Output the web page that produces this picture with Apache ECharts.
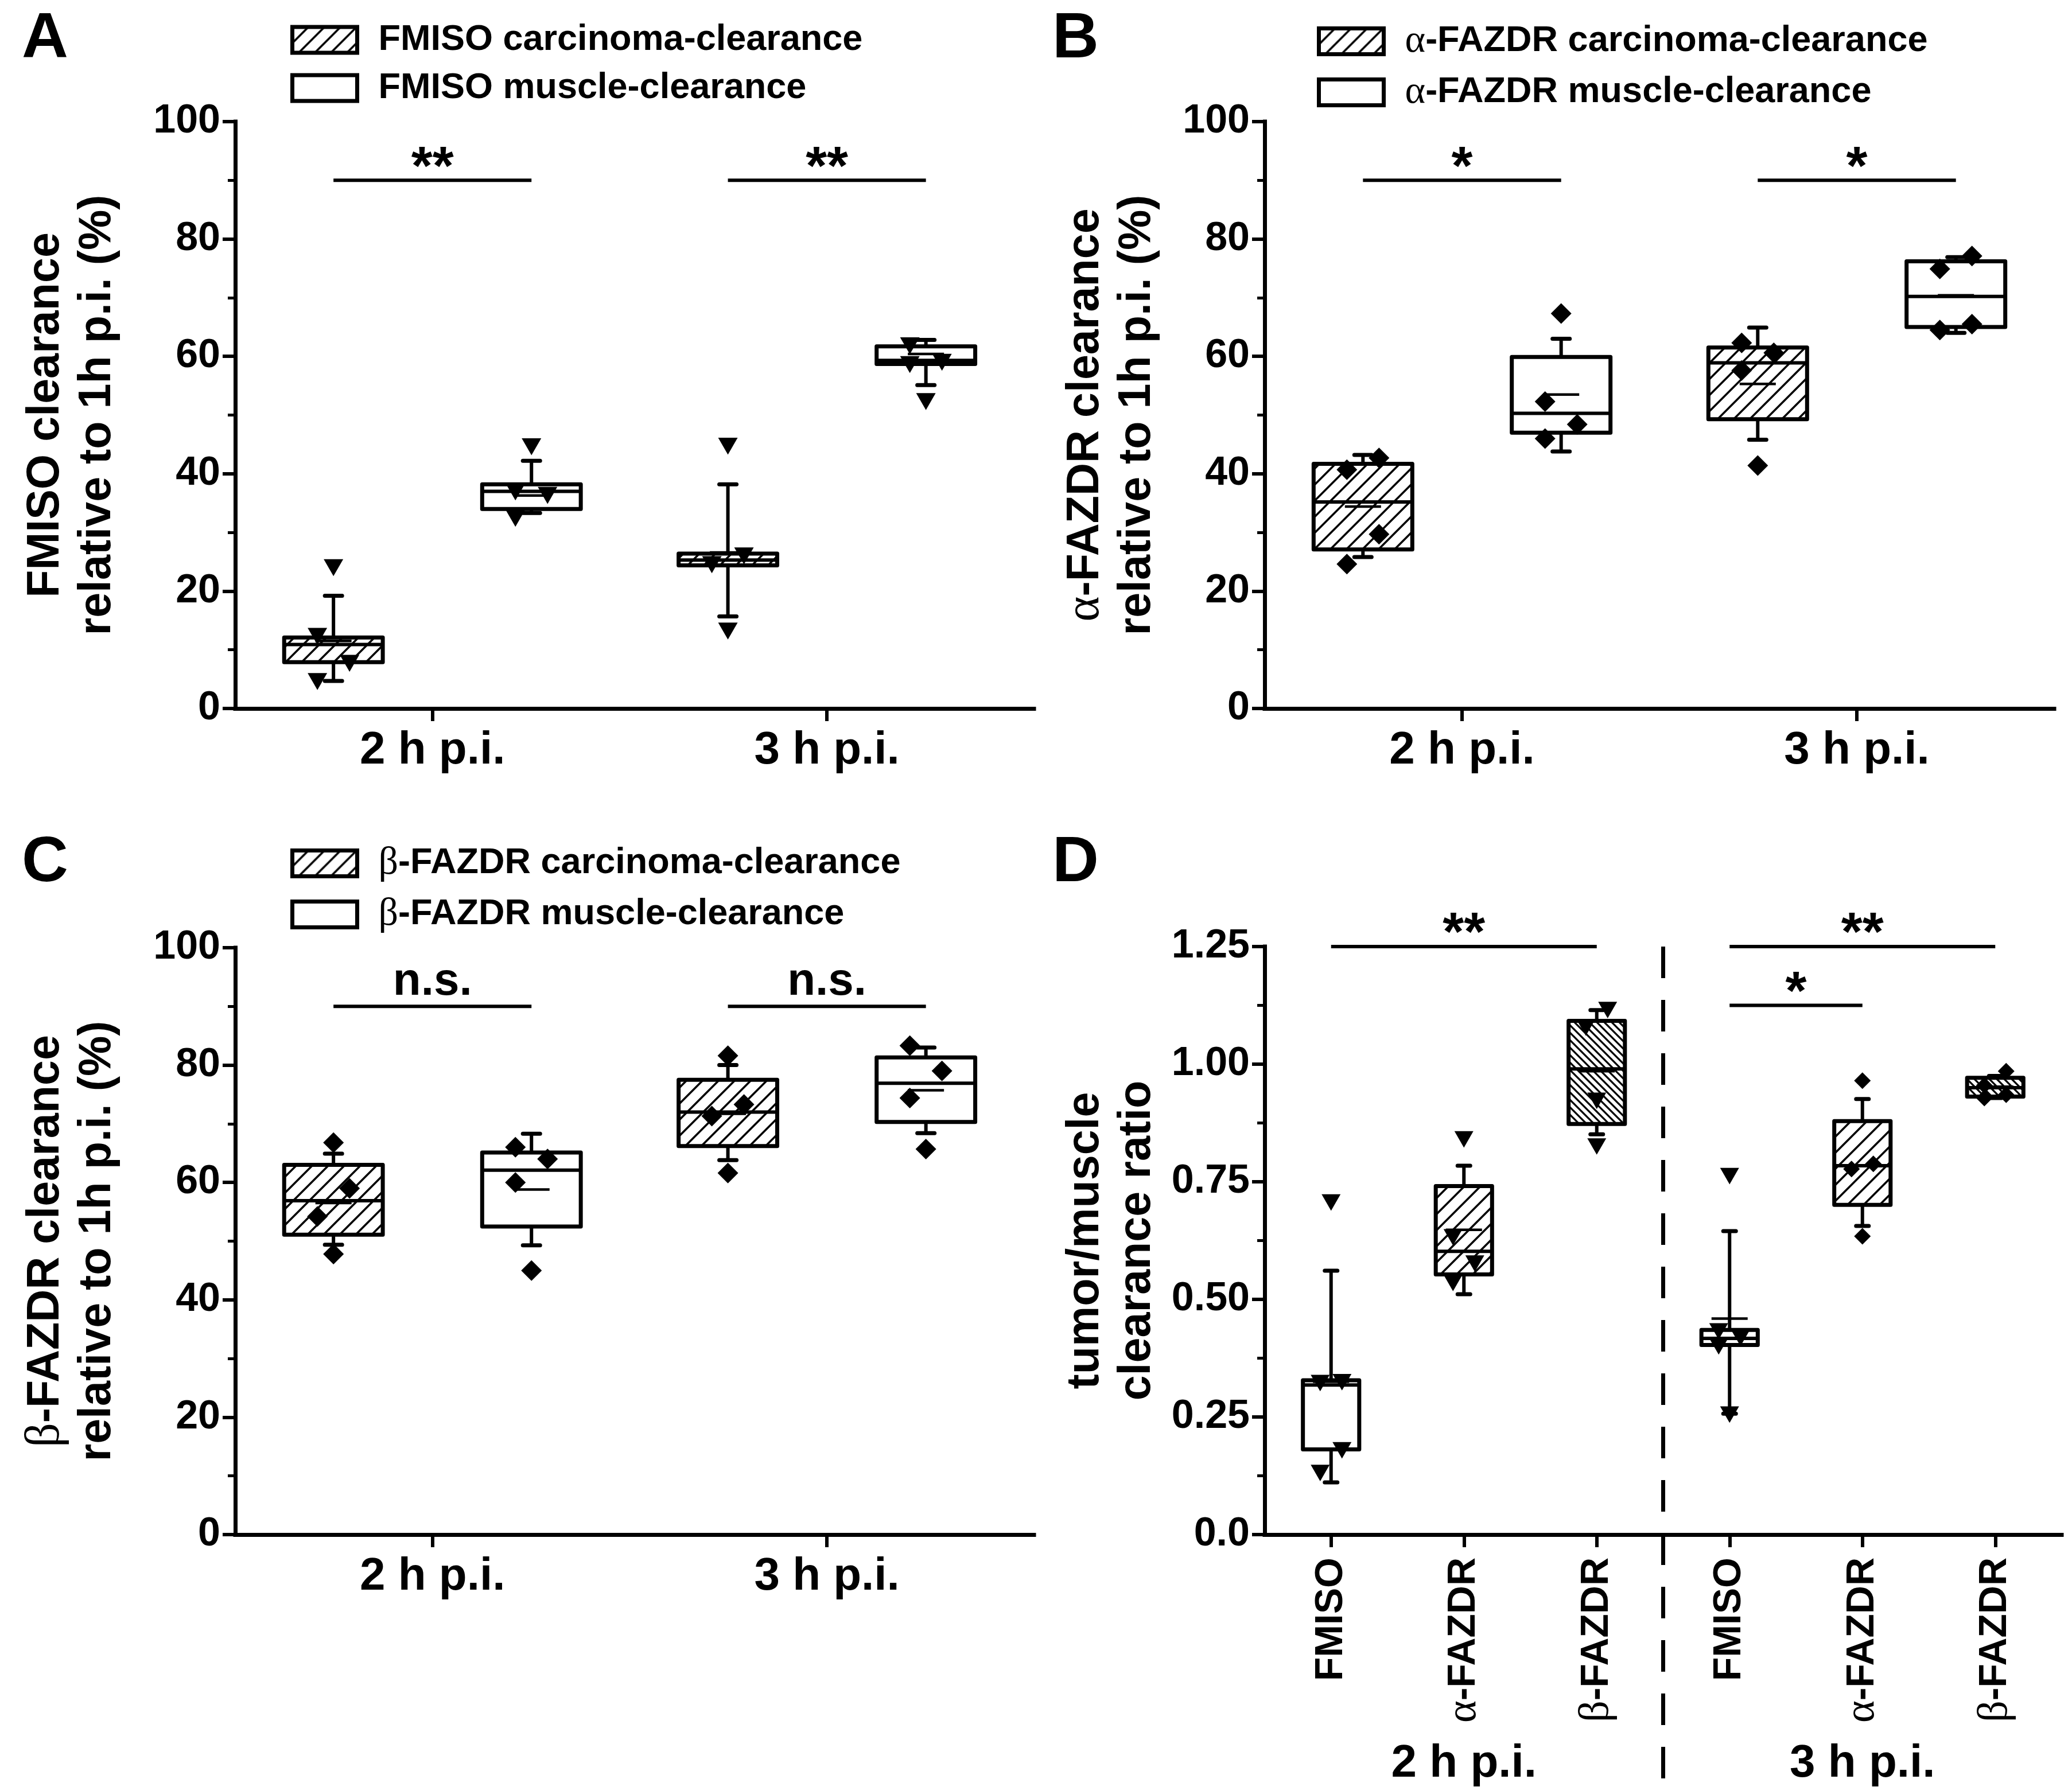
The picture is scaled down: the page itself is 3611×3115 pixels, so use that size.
<!DOCTYPE html>
<html><head><meta charset="utf-8">
<script src="https://cdn.jsdelivr.net/npm/echarts@6/dist/echarts.min.js"></script>
<style>html,body{margin:0;padding:0;background:#fff}#c{width:3611px;height:3115px}</style>
</head><body><div id="c"></div><script>
const SANS = '"Liberation Sans", Arial, Helvetica, sans-serif';
const SERIF = '"Liberation Serif", "Times New Roman", "DejaVu Serif", serif';
const INK = '#000';

// ---------------- data ----------------
const timeCats = ['2 h p.i.', '3 h p.i.'];
// box stats per time point: [lower whisker, Q1, median, Q3, upper whisker]
// Panel A (FMISO)
const fmisoTumorBox = [[4.7, 7.9, 10.9, 12.1, 19.2], [15.7, 24.4, 25.3, 26.4, 38.2]];
const fmisoTumorMean = [11.5, 26.6];
const fmisoTumorPts = [[24.0, 12.3, 7.7, 4.6], [44.7, 26.0, 24.5, 13.2]];
const fmisoMuscleBox = [[33.3, 34.0, 37.0, 38.2, 42.2], [55.1, 58.7, 59.3, 61.7, 62.8]];
const fmisoMuscleMean = [36.3, 60.4];
const fmisoMusclePts = [[44.6, 36.9, 36.3, 32.4], [61.8, 59.0, 58.6, 52.3]];
const sigTextA = ['**', '**'];
const sigLevelA = [90, 90];
// Panel B (alpha-FAZDR)
const alphaTumorBox = [[25.8, 27.1, 35.2, 41.7, 43.2], [45.8, 49.3, 58.9, 61.5, 64.9]];
const alphaTumorMean = [34.4, 55.3];
const alphaTumorPts = [[42.7, 40.7, 29.7, 24.6], [62.3, 60.6, 57.6, 41.4]];
const alphaMuscleBox = [[43.8, 47.0, 50.3, 59.9, 63.0], [64.0, 65.0, 70.2, 76.2, 76.9]];
const alphaMuscleMean = [53.5, 70.4];
const alphaMusclePts = [[67.3, 52.3, 48.4, 46.0], [77.1, 74.9, 65.5, 64.5]];
const sigTextB = ['*', '*'];
const sigLevelB = [90, 90];
// Panel C (beta-FAZDR)
const betaTumorBox = [[49.4, 51.1, 56.9, 63.0, 64.9], [63.8, 66.2, 72.0, 77.5, 80.0]];
const betaTumorMean = [56.5, 71.7];
const betaTumorPts = [[66.8, 59.0, 54.2, 47.8], [81.6, 73.3, 71.3, 61.6]];
const betaMuscleBox = [[49.3, 52.5, 62.1, 65.1, 68.3], [68.4, 70.3, 76.9, 81.3, 83.0]];
const betaMuscleMean = [58.8, 75.7];
const betaMusclePts = [[66.0, 64.0, 60.0, 45.0], [83.3, 79.0, 74.4, 65.7]];
const sigTextC = ['n.s.', 'n.s.'];
const sigLevelC = [90, 90];
// Panel D (tumor/muscle clearance ratio)
const ratioCats = ['FMISO', 'α-FAZDR', 'β-FAZDR', 'FMISO', 'α-FAZDR', 'β-FAZDR'];
const ratioGroups = ['2 h p.i.', '3 h p.i.'];
const ratioBox = [
  [0.111, 0.181, 0.318, 0.328, 0.561],
  [0.511, 0.553, 0.602, 0.741, 0.784],
  [0.851, 0.873, 0.990, 1.092, 1.115],
  [0.257, 0.403, 0.417, 0.435, 0.645],
  [0.656, 0.701, 0.784, 0.879, 0.926],
  [0.928, 0.931, 0.950, 0.971, 0.975]
];
const ratioMean = [0.325, 0.648, 0.985, 0.459, 0.784, 0.952];
const ratioPts = [
  [0.706, 0.324, 0.322, 0.179, 0.131],
  [0.840, 0.632, 0.576, 0.535],
  [1.115, 1.078, 0.922, 0.825],
  [0.762, 0.432, 0.418, 0.400, 0.255],
  [0.965, 0.788, 0.777, 0.634],
  [0.985, 0.955, 0.935, 0.928]
];
const sigFromD = [0, 3, 3];
const sigToD = [2, 5, 4];
const sigLevelD = [1.25, 1.25, 1.125];
const sigTextD = ['**', '**', '*'];

// ---------------- styles ----------------
function makeHatch(step, lw, dir) {
  const c = document.createElement('canvas');
  c.width = step; c.height = step;
  const g = c.getContext('2d');
  g.fillStyle = '#fff'; g.fillRect(0, 0, step, step);
  g.strokeStyle = '#000'; g.lineWidth = lw; g.lineCap = 'square';
  g.beginPath();
  for (let k = -1; k <= 1; k++) {
    if (dir > 0) { g.moveTo(k * step, step); g.lineTo(k * step + step, 0); }
    else { g.moveTo(k * step, 0); g.lineTo(k * step + step, step); }
  }
  g.stroke();
  return { image: c, repeat: 'repeat' };
}
const HATCH = makeHatch(28, 3.6, 1);
const HATCH_DENSE = makeHatch(13, 3.2, -1);
const WHITE = '#fff';

const greek = s => s.replace(/([αβ])/g, '{g|$1}');

function jitter(ys, thr) {
  const idx = ys.map((y, i) => i).sort((a, b) => ys[b] - ys[a]);
  const out = ys.map(() => 0);
  let start = 0;
  for (let k = 1; k <= idx.length; k++) {
    if (k === idx.length || Math.abs(ys[idx[k]] - ys[idx[k - 1]]) >= thr) {
      const n = k - start;
      if (n > 1) for (let j = 0; j < n; j++) out[idx[start + j]] = (j % 2 === 0) ? -1 : 1;
      start = k;
    }
  }
  return out;
}

function marker(kind, x, y, s) {
  if (kind === 'tri') {
    const w = s, h = s * 0.87;
    return { type: 'polygon', shape: { points: [[x - w / 2, y - h / 2], [x + w / 2, y - h / 2], [x, y + h / 2]] }, style: { fill: INK } };
  }
  const r = s / 2;
  return { type: 'polygon', shape: { points: [[x, y - r], [x + r, y], [x, y + r], [x - r, y]] }, style: { fill: INK } };
}

function boxRenderer(o) {
  return function (params, api) {
    const i = params.dataIndex;
    const xv = api.value(0);
    const unit = api.size([1, 0])[0];
    const cx = api.coord([xv, 0])[0] + o.shift * unit;
    const bw = o.width * unit;
    const Y = v => api.coord([xv, v])[1];
    const lo = Y(api.value(1)), q1 = Y(api.value(2)), med = Y(api.value(3)),
          q3 = Y(api.value(4)), hi = Y(api.value(5)), mean = Y(api.value(6));
    const els = [];
    const seg = (x1, y1, x2, y2, w, cap) => els.push({ type: 'line', shape: { x1, y1, x2, y2 }, style: { stroke: INK, lineWidth: w, lineCap: cap || 'butt' } });
    seg(cx, q3, cx, hi, 6);
    seg(cx, q1, cx, lo, 6);
    seg(cx - o.capW / 2, hi, cx + o.capW / 2, hi, 7, 'round');
    seg(cx - o.capW / 2, lo, cx + o.capW / 2, lo, 7, 'round');
    els.push({ type: 'rect', shape: { x: cx - bw / 2, y: q3, width: bw, height: q1 - q3 },
      style: { fill: o.fills[i], stroke: INK, lineWidth: 7, lineJoin: 'round' } });
    seg(cx - bw / 2, med, cx + bw / 2, med, 6);
    seg(cx - o.meanW / 2, mean, cx + o.meanW / 2, mean, 4.5);
    const ys = o.points[i].map(v => Y(v));
    const offs = jitter(ys, o.clusterPx);
    ys.forEach((py, k) => els.push(marker(o.markers[i], cx + offs[k] * o.jitterPx, py, o.markerSize[i])));
    return { type: 'group', children: els };
  };
}

function boxSeries(name, gi, box, mean, pts, o, xStart) {
  return {
    type: 'custom', name, coordinateSystem: 'cartesian2d', xAxisIndex: gi, yAxisIndex: gi,
    data: box.map((b, i) => [i + xStart].concat(b, [mean[i]])),
    encode: { x: 0, y: [1, 2, 3, 4, 5, 6] },
    renderItem: boxRenderer(Object.assign({ points: pts }, o)),
    clip: false, silent: true, z: 3
  };
}

function sigRenderer(texts, shiftL, shiftR) {
  return function (params, api) {
    const a = api.coord([api.value(0), api.value(2)]);
    const b = api.coord([api.value(1), api.value(2)]);
    const unit = api.size([1, 0])[0];
    const x1 = a[0] + shiftL * unit, x2 = b[0] + shiftR * unit, y = a[1];
    const t = texts[params.dataIndex];
    const star = t.indexOf('*') >= 0;
    return { type: 'group', children: [
      { type: 'line', shape: { x1, y1: y, x2, y2: y }, style: { stroke: INK, lineWidth: 6 } },
      { type: 'text', x: (x1 + x2) / 2, y: y - (star ? 20 : 42),
        style: { text: t, fill: INK, fontSize: star ? 95 : 80, fontWeight: 'bold', fontFamily: SANS, align: 'center', verticalAlign: 'middle' } }
    ] };
  };
}

function sigSeries(gi, from, to, levels, texts, shiftL, shiftR) {
  return {
    type: 'custom', coordinateSystem: 'cartesian2d', xAxisIndex: gi, yAxisIndex: gi,
    data: from.map((f, i) => [f, to[i], levels[i]]),
    encode: { x: [0, 1], y: 2 },
    renderItem: sigRenderer(texts, shiftL, shiftR), clip: false, silent: true, z: 4
  };
}

// ---------------- axes ----------------
const axisLine = { show: true, onZero: false, lineStyle: { color: INK, width: 7, cap: 'square' } };
const tick = { show: true, length: 22, lineStyle: { color: INK, width: 6 } };
const minor = { show: true, splitNumber: 2, length: 13, lineStyle: { color: INK, width: 5 } };
const labelFont = { color: INK, fontFamily: SANS, fontWeight: 'bold' };
const greekRich = size => ({ g: { fontFamily: SERIF, fontWeight: 'normal', fontSize: size, color: INK } });

function timeAxis(gi, max) {
  return {
    type: 'value', gridIndex: gi, min: 0.5, max,
    axisLine, splitLine: { show: false },
    axisTick: Object.assign({ customValues: [1, 2] }, tick),
    axisLabel: Object.assign({ customValues: [1, 2], fontSize: 80, margin: 34,
      formatter: v => (Number.isInteger(v) && timeCats[v - 1]) ? timeCats[v - 1] : '' }, labelFont)
  };
}
function pctAxis(gi, title, gap) {
  return {
    type: 'value', gridIndex: gi, min: 0, max: 100, interval: 20,
    axisLine, axisTick: tick, minorTick: minor, splitLine: { show: false }, minorSplitLine: { show: false },
    axisLabel: Object.assign({ fontSize: 70, margin: 26 }, labelFont),
    name: greek(title) + '\nrelative to 1h p.i. (%)', nameLocation: 'middle', nameRotate: 90, nameGap: gap,
    nameTextStyle: Object.assign({ fontSize: 79, lineHeight: 90, rich: greekRich(84) }, labelFont)
  };
}

const carcOpts = (fill, mk, shift) => ({ shift, width: 0.25, fills: [fill, fill], markers: [mk, mk],
  markerSize: mk === 'tri' ? [34, 34] : [36, 36], capW: 30, meanW: 63, jitterPx: 28, clusterPx: 55 });

const series = [
  boxSeries('FMISO carcinoma-clearance', 0, fmisoTumorBox, fmisoTumorMean, fmisoTumorPts, carcOpts(HATCH, 'tri', -0.251), 1),
  boxSeries('FMISO muscle-clearance', 0, fmisoMuscleBox, fmisoMuscleMean, fmisoMusclePts, carcOpts(WHITE, 'tri', 0.251), 1),
  sigSeries(0, [1, 2], [1, 2], sigLevelA, sigTextA, -0.251, 0.251),
  boxSeries('α-FAZDR carcinoma-clearance', 1, alphaTumorBox, alphaTumorMean, alphaTumorPts, carcOpts(HATCH, 'dia', -0.251), 1),
  boxSeries('α-FAZDR muscle-clearance', 1, alphaMuscleBox, alphaMuscleMean, alphaMusclePts, carcOpts(WHITE, 'dia', 0.251), 1),
  sigSeries(1, [1, 2], [1, 2], sigLevelB, sigTextB, -0.251, 0.251),
  boxSeries('β-FAZDR carcinoma-clearance', 2, betaTumorBox, betaTumorMean, betaTumorPts, carcOpts(HATCH, 'dia', -0.251), 1),
  boxSeries('β-FAZDR muscle-clearance', 2, betaMuscleBox, betaMuscleMean, betaMusclePts, carcOpts(WHITE, 'dia', 0.251), 1),
  sigSeries(2, [1, 2], [1, 2], sigLevelC, sigTextC, -0.251, 0.251),
  boxSeries('ratio', 3, ratioBox, ratioMean, ratioPts, {
    shift: 0, width: 0.424, fills: [WHITE, HATCH, HATCH_DENSE, WHITE, HATCH, HATCH_DENSE],
    markers: ['tri', 'tri', 'tri', 'tri', 'dia', 'dia'], markerSize: [33, 33, 33, 33, 29, 29],
    capW: 22, meanW: 63, jitterPx: 19, clusterPx: 55 }, 0),
  sigSeries(3, sigFromD, sigToD, sigLevelD, sigTextD, 0, 0),
  {
    type: 'custom', coordinateSystem: 'cartesian2d', xAxisIndex: 3, yAxisIndex: 3, data: [[2]],
    encode: { x: 0 }, clip: false, silent: true, z: 2,
    renderItem: (params, api) => {
      const x = api.coord([api.value(0), 0])[0] + api.size([1, 0])[0] / 2;
      const top = params.coordSys.y;
      return { type: 'line', shape: { x1: x, y1: top, x2: x, y2: top + params.coordSys.height + 440 },
        style: { stroke: INK, lineWidth: 7, lineDash: [55, 38] } };
    }
  }
];

const legendBase = (names, left, top) => ({
  orient: 'vertical', left, top, padding: 0, itemGap: 21, itemWidth: 113, itemHeight: 45,
  selectedMode: false, icon: 'rect',
  data: names.map((n, i) => ({ name: n, icon: 'rect', itemStyle: { color: i === 0 ? HATCH : WHITE, borderColor: INK, borderWidth: 7 } })),
  formatter: n => '{sp|}' + greek(n),
  textStyle: Object.assign({ fontSize: 63, rich: { sp: { width: 32 }, g: { fontFamily: SERIF, fontWeight: 'normal', fontSize: 68, color: INK } } }, labelFont)
});

const option = {
  backgroundColor: '#fff',
  animation: false,
  title: [
    { text: 'A', left: 38, top: 13 }, { text: 'B', left: 1834, top: 13 },
    { text: 'C', left: 38, top: 1449 }, { text: 'D', left: 1834, top: 1449 }
  ].map(t => Object.assign(t, { padding: 0, textStyle: { fontSize: 112, fontWeight: 'bold', fontFamily: SANS, color: INK } })),
  legend: [
    legendBase(['FMISO carcinoma-clearance', 'FMISO muscle-clearance'], 506, 38),
    legendBase(['α-FAZDR carcinoma-clearance', 'α-FAZDR muscle-clearance'], 2295, 38),
    legendBase(['β-FAZDR carcinoma-clearance', 'β-FAZDR muscle-clearance'], 506, 1471)
  ],
  grid: [
    { left: 410, top: 212, width: 1392, height: 1023 },
    { left: 2204, top: 212, width: 1376, height: 1023 },
    { left: 410, top: 1652, width: 1392, height: 1023 },
    { left: 2204, top: 1650, width: 1389, height: 1025 }
  ],
  xAxis: [
    timeAxis(0, 2.525),
    timeAxis(1, 2.5),
    timeAxis(2, 2.525),
    {
      type: 'category', gridIndex: 3, data: ratioCats.map((c, i) => i + ':' + c), boundaryGap: true,
      axisLine, splitLine: { show: false },
      axisTick: Object.assign({ alignWithLabel: true }, tick),
      axisLabel: Object.assign({ rotate: 90, fontSize: 68, margin: 40, interval: 0,
        formatter: (v, i) => greek(ratioCats[i]), rich: greekRich(74) }, labelFont)
    },
    {
      type: 'category', gridIndex: 3, data: ratioGroups, position: 'bottom', offset: 340,
      axisLine: { show: false }, axisTick: { show: false }, splitLine: { show: false },
      axisLabel: Object.assign({ fontSize: 80, margin: 20, interval: 0 }, labelFont)
    }
  ],
  yAxis: [
    pctAxis(0, 'FMISO clearance', 195),
    pctAxis(1, 'α-FAZDR clearance', 177),
    pctAxis(2, 'β-FAZDR clearance', 195),
    {
      type: 'value', gridIndex: 3, min: 0, max: 1.25, interval: 0.25,
      axisLine, axisTick: tick, minorTick: minor, splitLine: { show: false }, minorSplitLine: { show: false },
      axisLabel: Object.assign({ fontSize: 70, margin: 26, formatter: v => v === 0 ? '0.0' : v.toFixed(2) }, labelFont),
      name: 'tumor/muscle\nclearance ratio', nameLocation: 'middle', nameRotate: 90, nameGap: 177,
      nameTextStyle: Object.assign({ fontSize: 79, lineHeight: 90 }, labelFont)
    }
  ],
  series
};

const chart = echarts.init(document.getElementById('c'), null, { renderer: 'canvas' });
chart.setOption(option);
</script></body></html>
